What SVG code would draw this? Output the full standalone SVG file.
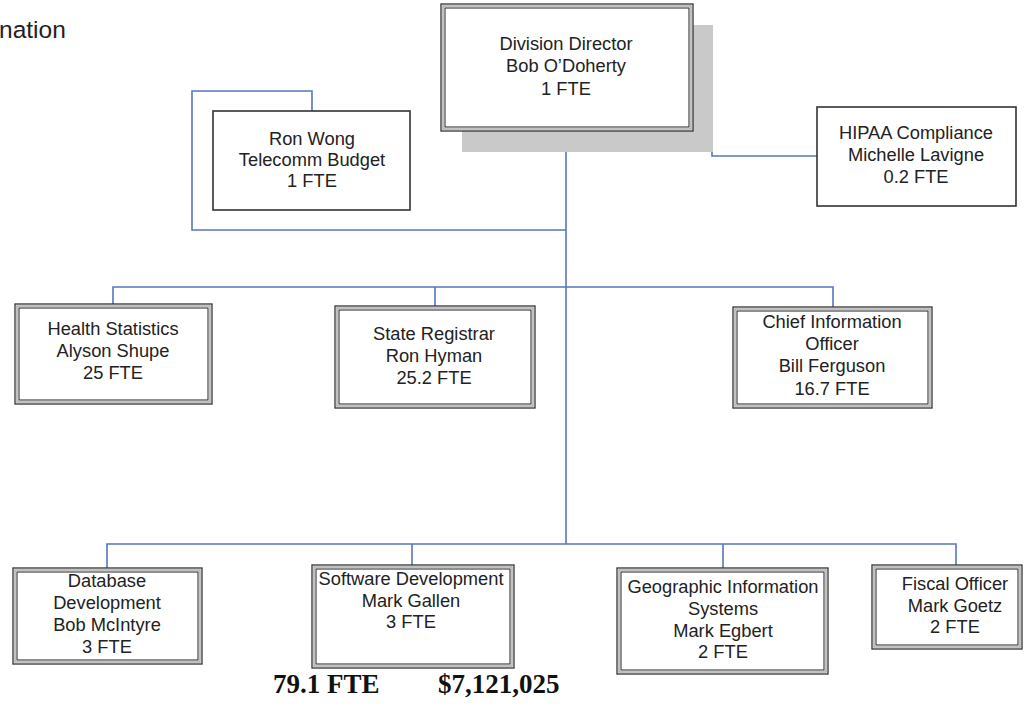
<svg xmlns="http://www.w3.org/2000/svg" width="1024" height="708" viewBox="0 0 1024 708">
<style>
  .conn { fill: none; stroke: #5577bb; stroke-width: 1.6; }
  .o { fill: #ffffff; stroke: #333333; stroke-width: 1.3; }
  .m { fill: none; stroke: #a8a8a8; stroke-width: 1.4; }
  .i { fill: none; stroke: #333333; stroke-width: 1.1; }
  .s { fill: #ffffff; stroke: #333333; stroke-width: 1.6; }
  .t { font-family: "Liberation Sans", Arial, sans-serif; font-size: 18.3px; fill: #222222; text-anchor: middle; }
  .b { font-family: "Liberation Serif", "Times New Roman", serif; font-size: 27px; font-weight: bold; fill: #111111; }
</style>
<rect x="0" y="0" width="1024" height="708" fill="#ffffff"/>
<text x="-1" y="38" font-family="'Liberation Sans', Arial, sans-serif" font-size="24.5" fill="#222222">nation</text>

<g id="connectors">
  <polyline class="conn" points="566,131 566,544"/>
  <polyline class="conn" points="692,68 712,68 712,156 817,156"/>
  <polyline class="conn" points="312,111 312,91 192,91 192,230 566,230"/>
  <polyline class="conn" points="113,304 113,287 833,287 833,307"/>
  <polyline class="conn" points="435,287 435,306"/>
  <polyline class="conn" points="107,568 107,544 956,544 956,565"/>
  <polyline class="conn" points="412,544 412,565"/>
  <polyline class="conn" points="723,544 723,568"/>
</g>

<g id="director">
  <rect x="462" y="25" width="251" height="127" fill="#c9c9c9"/>
  <rect class="o" x="441" y="4" width="252" height="127"/>
  <rect class="m" x="443" y="6" width="248" height="123"/>
  <rect class="i" x="445" y="8" width="244" height="119"/>
  <text class="t" x="566" y="50">Division Director</text>
  <text class="t" x="566" y="72">Bob O’Doherty</text>
  <text class="t" x="566" y="95">1 FTE</text>
</g>

<g id="ronwong">
  <rect class="s" x="213" y="111" width="197" height="99"/>
  <text class="t" x="312" y="145">Ron Wong</text>
  <text class="t" x="312" y="166">Telecomm Budget</text>
  <text class="t" x="312" y="187">1 FTE</text>
</g>

<g id="hipaa">
  <rect class="s" x="817" y="107" width="199" height="99"/>
  <text class="t" x="916" y="139">HIPAA Compliance</text>
  <text class="t" x="916" y="161">Michelle Lavigne</text>
  <text class="t" x="916" y="183">0.2 FTE</text>
</g>

<g id="health">
  <rect class="o" x="15" y="304" width="197" height="100"/>
  <rect class="m" x="17" y="306" width="193" height="96"/>
  <rect class="i" x="19" y="308" width="189" height="92"/>
  <text class="t" x="113" y="335">Health Statistics</text>
  <text class="t" x="113" y="357">Alyson Shupe</text>
  <text class="t" x="113" y="379">25 FTE</text>
</g>

<g id="registrar">
  <rect class="o" x="335" y="306" width="200" height="102"/>
  <rect class="m" x="337" y="308" width="196" height="98"/>
  <rect class="i" x="339" y="310" width="192" height="94"/>
  <text class="t" x="434" y="340">State Registrar</text>
  <text class="t" x="434" y="362">Ron Hyman</text>
  <text class="t" x="434" y="384">25.2 FTE</text>
</g>

<g id="cio">
  <rect class="o" x="733" y="307" width="199" height="101"/>
  <rect class="m" x="735" y="309" width="195" height="97"/>
  <rect class="i" x="737" y="311" width="191" height="93"/>
  <text class="t" x="832" y="328">Chief Information</text>
  <text class="t" x="832" y="350">Officer</text>
  <text class="t" x="832" y="372">Bill Ferguson</text>
  <text class="t" x="832" y="395">16.7 FTE</text>
</g>

<g id="database">
  <rect class="o" x="13" y="568" width="189" height="96"/>
  <rect class="m" x="15" y="570" width="185" height="92"/>
  <rect class="i" x="17" y="572" width="181" height="88"/>
  <text class="t" x="107" y="587">Database</text>
  <text class="t" x="107" y="609">Development</text>
  <text class="t" x="107" y="631">Bob McIntyre</text>
  <text class="t" x="107" y="653">3 FTE</text>
</g>

<g id="software">
  <rect class="o" x="312" y="565" width="202" height="103"/>
  <rect class="m" x="314" y="567" width="198" height="99"/>
  <rect class="i" x="316" y="569" width="194" height="95"/>
  <text class="t" x="411" y="585">Software Development</text>
  <text class="t" x="411" y="607">Mark Gallen</text>
  <text class="t" x="411" y="628">3 FTE</text>
</g>

<g id="gis">
  <rect class="o" x="617" y="568" width="211" height="106"/>
  <rect class="m" x="619" y="570" width="207" height="102"/>
  <rect class="i" x="621" y="572" width="203" height="98"/>
  <text class="t" x="723" y="593">Geographic Information</text>
  <text class="t" x="723" y="615">Systems</text>
  <text class="t" x="723" y="637">Mark Egbert</text>
  <text class="t" x="723" y="658">2 FTE</text>
</g>

<g id="fiscal">
  <rect class="o" x="872" y="565" width="150" height="84"/>
  <rect class="m" x="874" y="567" width="146" height="80"/>
  <rect class="i" x="876" y="569" width="142" height="76"/>
  <text class="t" x="955" y="590">Fiscal Officer</text>
  <text class="t" x="955" y="612">Mark Goetz</text>
  <text class="t" x="955" y="633">2 FTE</text>
</g>

<g id="totals">
  <text class="b" x="273" y="693">79.1 FTE</text>
  <text class="b" x="438" y="693">$7,121,025</text>
</g>
</svg>
